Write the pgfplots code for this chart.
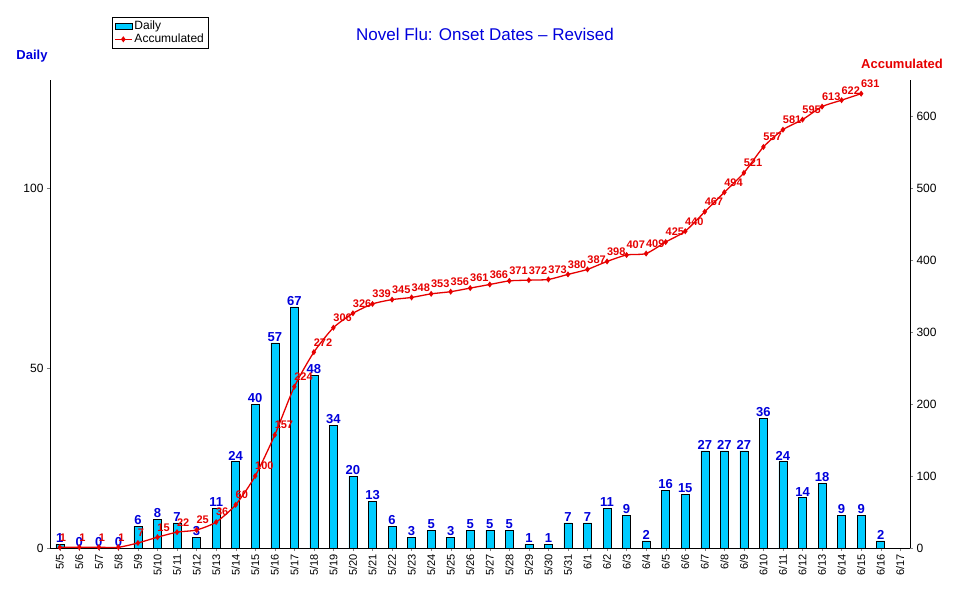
\documentclass[border=0pt]{standalone}
\usepackage{fontspec}
\setmainfont{Liberation Sans}
\usepackage{pgfplots}
\pgfplotsset{compat=1.18}
\definecolor{barc}{RGB}{0,204,255}
\definecolor{tblue}{RGB}{0,0,220}
\definecolor{lred}{RGB}{230,0,0}
\begin{document}
\begin{tikzpicture}[x=1pt,y=1pt]
\path (0,0) rectangle (970,-604);
\pgfplotsset{every axis/.style={scale only axis, width=860pt, height=468pt, at={(50pt,-548pt)}, anchor=south west,
 xmin=-0.5, xmax=43.5, /pgf/number format/assume math mode=true, tick label style={font=\fontsize{12}{14}\selectfont}}}
\begin{axis}[ymin=0, ymax=130, ytick={0,50,100}, axis y line*=left,
 xtick={0,...,43}, xticklabels={5/5,5/6,5/7,5/8,5/9,5/10,5/11,5/12,5/13,5/14,5/15,5/16,5/17,5/18,5/19,5/20,5/21,5/22,5/23,5/24,5/25,5/26,5/27,5/28,5/29,5/30,5/31,6/1,6/2,6/3,6/4,6/5,6/6,6/7,6/8,6/9,6/10,6/11,6/12,6/13,6/14,6/15,6/16,6/17},
 x tick label style={rotate=90, anchor=east, font=\fontsize{11}{13}\selectfont}, major tick length=3pt, tick align=outside,
 axis x line*=bottom]
\addplot[ybar, bar width=8pt, fill=barc, draw=black, nodes near coords, every node near coord/.style={font=\bfseries\fontsize{13}{15}\selectfont, text=tblue, yshift=-2pt}] coordinates {
(0,1)(1,0)(2,0)(3,0)(4,6)(5,8)(6,7)(7,3)(8,11)(9,24)(10,40)(11,57)(12,67)(13,48)(14,34)(15,20)(16,13)(17,6)(18,3)(19,5)(20,3)(21,5)(22,5)(23,5)(24,1)(25,1)(26,7)(27,7)(28,11)(29,9)(30,2)(31,16)(32,15)(33,27)(34,27)(35,27)(36,36)(37,24)(38,14)(39,18)(40,9)(41,9)(42,2)};
\end{axis}
\begin{axis}[ymin=0, ymax=650, ytick={0,100,...,600}, axis y line*=right, axis x line=none, tick align=outside, major tick length=3pt,
 legend style={at={(0.072,1.135)}, anchor=north west, font=\fontsize{12}{14}\selectfont, draw=black, row sep=-1pt, inner sep=2pt}, legend cell align=left]
\addlegendimage{area legend, fill=barc, draw=black}
\addlegendentry{Daily}
\addplot[lred, line width=1.3pt, smooth, tension=0.4, mark=diamond*, mark size=2pt, nodes near coords, every node near coord/.style={font=\bfseries\fontsize{11}{13}\selectfont, text=lred, anchor=south west, xshift=-4pt, yshift=2pt}] coordinates {
(0,1)(1,1)(2,1)(3,1)(4,7)(5,15)(6,22)(7,25)(8,36)(9,60)(10,100)(11,157)(12,224)(13,272)(14,306)(15,326)(16,339)(17,345)(18,348)(19,353)(20,356)(21,361)(22,366)(23,371)(24,372)(25,373)(26,380)(27,387)(28,398)(29,407)(30,409)(31,425)(32,440)(33,467)(34,494)(35,521)(36,557)(37,581)(38,595)(39,613)(40,622)(41,631)};
\addlegendentry{Accumulated}
\end{axis}
\node[text=tblue, font=\fontsize{17}{20}\selectfont] at (485,-34) {Novel Flu: Onset Dates -- Revised};
\node[text=tblue, font=\bfseries\fontsize{13}{15}\selectfont] at (32,-56) {Daily};
\node[text=lred, font=\bfseries\fontsize{13}{15}\selectfont] at (902,-64) {Accumulated};
\end{tikzpicture}
\end{document}
